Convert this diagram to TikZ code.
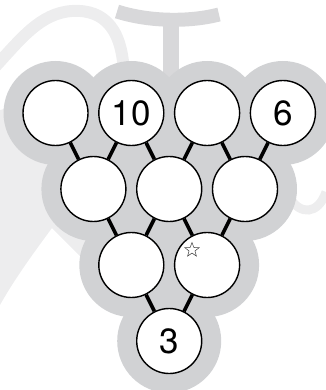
\documentclass[tikz,border=0pt]{standalone}
\usepackage{fontspec}
\setmainfont{TeX Gyre Heros}
\usetikzlibrary{shapes.geometric}
\definecolor{blobgray}{RGB}{209,210,212}
\definecolor{stemgray}{RGB}{216,216,218}
\definecolor{leafgray}{RGB}{237,237,238}

\begin{document}
\begin{tikzpicture}[x=1pt, y=-1pt,
    ball/.style={circle, draw=black, line width=1.4pt, fill=white, minimum size=65pt, inner sep=0pt, font=\fontsize{35}{40}\selectfont},
    link/.style={line width=3.6pt, black}]
  \useasboundingbox (0,0) rectangle (325,390);
  % leaf in the background
  \fill[leafgray] (0,110) -- (45,100) -- (100,150) -- (100,276) -- (52,228) .. controls (32,255) and (14,280) .. (0,305) -- cycle;
  \draw[leafgray, line width=12pt] (-6,68) .. controls (20,40) and (40,13) .. (72,11) .. controls (105,9) and (124,30) .. (124,80);
  \draw[leafgray, line width=9pt] (290,198) .. controls (300,215) and (318,215) .. (326,192);
  % stem
  \draw[stemgray, line width=16pt] (171,20) -- (171,90);
  \draw[stemgray, line width=14pt] (117,11.5) .. controls (150,22) and (190,22) .. (219,14.5);
  % grey bunch
  \fill[blobgray] (55.5,113) -- (282.9,113) -- (169.2,341) -- cycle;
  \foreach \x/\y in {55.5/113, 131.3/113, 207.1/113, 282.9/113,
                     93.4/189, 169.2/189, 245/189,
                     131.3/265, 207.1/265, 169.2/341}
    \fill[blobgray] (\x,\y) circle (52pt);
  % balls
  \node[ball] (a1) at (55.5,113) {};
  \node[ball] (a2) at (131.3,113) {10};
  \node[ball] (a3) at (207.1,113) {};
  \node[ball] (a4) at (282.9,113) {6};
  \node[ball] (b1) at (93.4,189) {};
  \node[ball] (b2) at (169.2,189) {};
  \node[ball] (b3) at (245,189) {};
  \node[ball] (c1) at (131.3,265) {};
  \node[ball] (c2) at (207.1,265) {};
  \node[ball] (d) at (169.2,341) {3};
  % links
  \draw[link] (a1) -- (b1);
  \draw[link] (a2) -- (b1);
  \draw[link] (a2) -- (b2);
  \draw[link] (a3) -- (b2);
  \draw[link] (a3) -- (b3);
  \draw[link] (a4) -- (b3);
  \draw[link] (b1) -- (c1);
  \draw[link] (b2) -- (c1);
  \draw[link] (b2) -- (c2);
  \draw[link] (b3) -- (c2);
  \draw[link] (c1) -- (d);
  \draw[link] (c2) -- (d);
  % star mark
  \node[star, star points=5, star point ratio=2.4, draw=black!75, line width=0.5pt, minimum size=15pt, inner sep=0pt] (mark) at (192,250) {};
\end{tikzpicture}
\end{document}
